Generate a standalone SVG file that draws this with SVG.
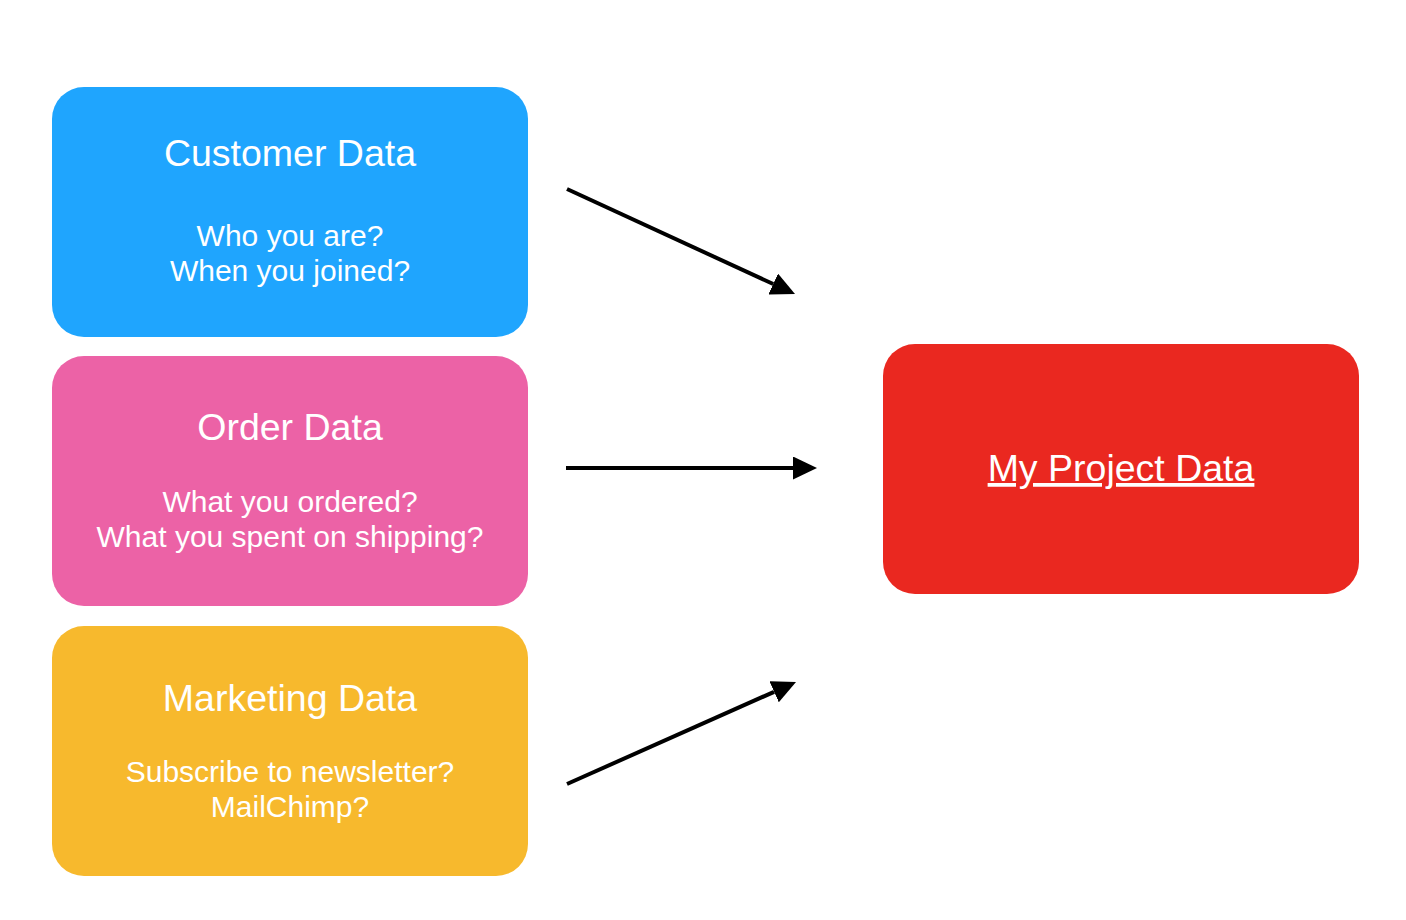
<svg xmlns="http://www.w3.org/2000/svg" width="1406" height="920" viewBox="0 0 1406 920">
<style>
.box{stroke:none}
.t{font-family:"Liberation Sans",Arial,Helvetica,sans-serif;fill:#ffffff;text-anchor:middle}
.title{font-size:37.5px}
.sub{font-size:30px}
.conn{stroke:#000;stroke-width:4;fill:none;marker-end:url(#ah)}
</style>
<defs>
<marker id="ah" markerUnits="userSpaceOnUse" viewBox="0 0 24 23" refX="0" refY="11.5" markerWidth="24" markerHeight="23" orient="auto">
<path d="M0,0 L24,11.5 L0,23 Z" fill="#000"/>
</marker>
</defs>
<rect width="1406" height="920" fill="#ffffff"/>
<g id="customer">
<rect class="box" x="52" y="87" width="476" height="250" rx="32" ry="32" fill="#1FA5FE"/>
<text class="t title" x="290" y="166">Customer Data</text>
<text class="t sub" x="290" y="245.5">Who you are?</text>
<text class="t sub" x="290" y="280.5">When you joined?</text>
</g>
<g id="order">
<rect class="box" x="52" y="356" width="476" height="250" rx="32" ry="32" fill="#EC62A6"/>
<text class="t title" x="290" y="439.5">Order Data</text>
<text class="t sub" x="290" y="511.5">What you ordered?</text>
<text class="t sub" x="290" y="546.5">What you spent on shipping?</text>
</g>
<g id="marketing">
<rect class="box" x="52" y="626" width="476" height="250" rx="32" ry="32" fill="#F7B92D"/>
<text class="t title" x="290" y="711">Marketing Data</text>
<text class="t sub" x="290" y="781.5">Subscribe to newsletter?</text>
<text class="t sub" x="290" y="816.5">MailChimp?</text>
</g>
<g id="project">
<rect class="box" x="883" y="344" width="476" height="250" rx="32" ry="32" fill="#EA2820"/>
<text class="t title" x="1121" y="481" text-decoration="underline">My Project Data</text>
</g>
<g id="connectors">
<line class="conn" x1="567" y1="189" x2="773.2" y2="284"/>
<line class="conn" x1="566" y1="468" x2="793" y2="468"/>
<line class="conn" x1="567" y1="784" x2="774.1" y2="691.8"/>
</g>
</svg>
